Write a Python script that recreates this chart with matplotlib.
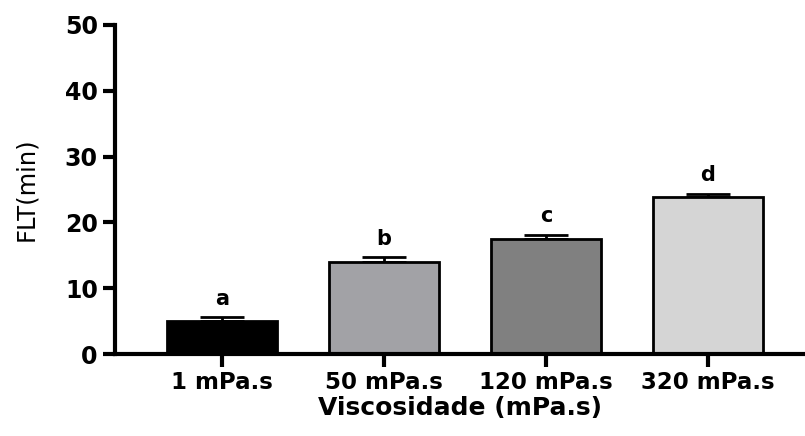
import numpy as np
import matplotlib
matplotlib.use('Agg')
import matplotlib.pyplot as plt

categories = ['1 mPa.s', '50 mPa.s', '120 mPa.s', '320 mPa.s']
means = [5.0, 14.0, 17.5, 23.9]
errors = [0.6, 0.7, 0.6, 0.4]
letters = ['a', 'b', 'c', 'd']
colors = ['#000000', '#a2a2a6', '#808080', '#d5d5d5']

plt.rcParams['font.family'] = ['DejaVu Sans']

fig = plt.figure(figsize=(8.05, 4.36), dpi=100)
ax = fig.add_axes([0.143, 0.188, 0.857, 0.755])

x = np.arange(len(categories))
ax.bar(x, means, width=0.68, color=colors, edgecolor='black', linewidth=2, zorder=2)
ax.errorbar(x, means, yerr=[np.zeros(len(errors)), errors], fmt='none',
            ecolor='black', elinewidth=2, capsize=16, capthick=2, zorder=1)

# significance letters above each bar
for xi, m, e, lab in zip(x, means, errors, letters):
    ax.text(xi, m + e + 1.3, lab, ha='center', va='bottom', fontsize=15, fontweight='bold')

ax.set_ylim(0, 50)
ax.set_xlim(-0.66, 3.6)
ax.set_yticks([0, 10, 20, 30, 40, 50])
ax.set_xticks(x)
ax.set_xticklabels(categories)

for s in ['top', 'right']:
    ax.spines[s].set_visible(False)
for s in ['left', 'bottom']:
    ax.spines[s].set_linewidth(3)

ax.tick_params(axis='both', width=3, length=9, pad=3.5)
ax.tick_params(axis='x', labelsize=16.5)
ax.tick_params(axis='y', labelsize=17)
for lbl in ax.get_xticklabels() + ax.get_yticklabels():
    lbl.set_fontweight('bold')

ax.set_ylabel('FLT(min)', fontsize=17.5, labelpad=19)
ax.set_xlabel('Viscosidade (mPa.s)', fontsize=18, fontweight='bold', labelpad=1)

fig.savefig('out.png', dpi=100)
